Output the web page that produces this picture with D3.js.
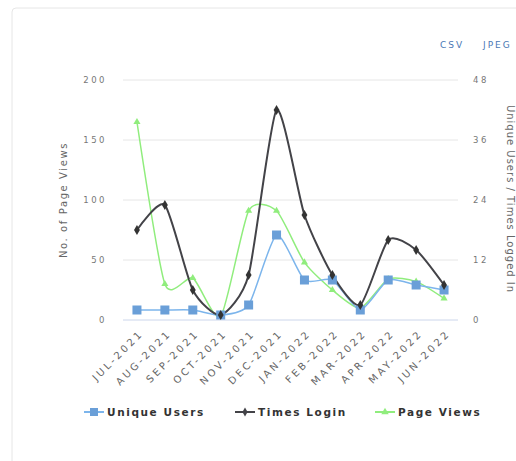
<!DOCTYPE html>
<html>
<head>
<meta charset="utf-8">
<script src="https://cdn.jsdelivr.net/npm/d3@7"></script>
<style>
  body { margin: 0; background: #fff; font-family: "DejaVu Sans", sans-serif; }
  svg { display: block; }
</style>
</head>
<body>
<figure id="chart" style="margin:0"></figure>
<script>
// chart values
const months = ["JUL-2021", "AUG-2021", "SEP-2021", "OCT-2021", "NOV-2021", "DEC-2021",
  "JAN-2022", "FEB-2022", "MAR-2022", "APR-2022", "MAY-2022", "JUN-2022"];
const uniqueUsers = [2, 2, 2, 1, 3, 17, 8, 8, 2, 8, 7, 6];
const timesLogin = [18, 23, 6, 1, 9, 42, 21, 9, 3, 16, 14, 7];
const pageViews = [165, 30, 35, 3, 91, 91, 48, 25, 10, 34, 32, 18];
const leftTicks = [0, 50, 100, 150, 200];
const rightTicks = [0, 12, 24, 36, 48];

const W = 516, H = 461;
const plot = { left: 123, right: 458, top: 80, bottom: 320 };

const svg = d3.select("#chart").append("svg")
  .attr("width", W)
  .attr("height", H);

// card frame
svg.append("rect")
  .attr("x", 12).attr("y", 8)
  .attr("width", 520).attr("height", 470)
  .attr("rx", 4)
  .attr("fill", "#fff")
  .attr("stroke", "#e6e6e6");

// export links
svg.append("text").attr("x", 440).attr("y", 48)
  .attr("font-size", 9).attr("fill", "#4a78b5").attr("letter-spacing", 2)
  .text("CSV");
svg.append("text").attr("x", 483).attr("y", 48)
  .attr("font-size", 9).attr("fill", "#4a78b5").attr("letter-spacing", 2)
  .text("JPEG");

const x = d3.scaleBand()
  .domain(months)
  .range([plot.left, plot.right]);
const cx = d => x(d) + x.bandwidth() / 2;

const yL = d3.scaleLinear().domain([0, 200]).range([plot.bottom, plot.top]);
const yR = d3.scaleLinear().domain([0, 48]).range([plot.bottom, plot.top]);

// gridlines
svg.append("g").selectAll("line")
  .data(leftTicks)
  .enter().append("line")
  .attr("x1", plot.left).attr("x2", plot.right)
  .attr("y1", d => yL(d)).attr("y2", d => yL(d))
  .attr("stroke", d => d === 0 ? "#ccd6eb" : "#e6e6e6")
  .attr("stroke-width", 1);

// left axis labels
svg.append("g").selectAll("text")
  .data(leftTicks)
  .enter().append("text")
  .attr("x", 107).attr("y", d => yL(d) + 3)
  .attr("text-anchor", "end")
  .attr("font-size", 8.5).attr("fill", "#777").attr("letter-spacing", 2.5)
  .text(d => d);

// right axis labels
svg.append("g").selectAll("text")
  .data(rightTicks)
  .enter().append("text")
  .attr("x", 473).attr("y", d => yR(d) + 3)
  .attr("font-size", 8.5).attr("fill", "#777").attr("letter-spacing", 2.5)
  .text(d => d);

// axis titles
svg.append("text")
  .attr("transform", "translate(67,200) rotate(-90)")
  .attr("text-anchor", "middle")
  .attr("font-size", 10).attr("fill", "#666").attr("letter-spacing", 1.6)
  .text("No. of Page Views");
svg.append("text")
  .attr("transform", "translate(507,199) rotate(90)")
  .attr("text-anchor", "middle")
  .attr("font-size", 10).attr("fill", "#666").attr("letter-spacing", 1.0)
  .text("Unique Users / Times Logged In");

// x labels
svg.append("g").selectAll("text")
  .data(months)
  .enter().append("text")
  .attr("transform", d => "translate(" + (cx(d) + 7) + "," + (plot.bottom + 14) + ") rotate(-45)")
  .attr("text-anchor", "end")
  .attr("font-size", 10).attr("fill", "#666").attr("letter-spacing", 2.8)
  .text(d => d);

const curve = d3.curveCardinal.tension(0.35);

function drawSeries(values, y, color, width) {
  const line = d3.line()
    .x((d, i) => cx(months[i]))
    .y(d => y(d))
    .curve(curve);
  svg.append("path")
    .datum(values)
    .attr("d", line)
    .attr("fill", "none")
    .attr("stroke", color)
    .attr("stroke-width", width);
}

drawSeries(pageViews, yL, "#90ed7d", 1.5);
drawSeries(uniqueUsers, yR, "#7cb5ec", 1.5);
drawSeries(timesLogin, yR, "#434348", 2);

// markers
svg.append("g").selectAll("path")
  .data(pageViews)
  .enter().append("path")
  .attr("d", d3.symbol(d3.symbolTriangle, 22))
  .attr("transform", (d, i) => "translate(" + cx(months[i]) + "," + yL(d) + ")")
  .attr("fill", "#90ed7d");

svg.append("g").selectAll("rect")
  .data(uniqueUsers)
  .enter().append("rect")
  .attr("x", (d, i) => cx(months[i]) - 4.5)
  .attr("y", d => yR(d) - 4.5)
  .attr("width", 9).attr("height", 9)
  .attr("fill", "#6a9fd8");

svg.append("g").selectAll("path")
  .data(timesLogin)
  .enter().append("path")
  .attr("d", d3.symbol(d3.symbolDiamond, 30))
  .attr("transform", (d, i) => "translate(" + cx(months[i]) + "," + yR(d) + ")")
  .attr("fill", "#333");

// legend
const legend = [
  { name: "Unique Users", color: "#7cb5ec", x: 84, kind: "square" },
  { name: "Times Login", color: "#434348", x: 235, kind: "diamond" },
  { name: "Page Views", color: "#90ed7d", x: 375, kind: "triangle" }
];
const lg = svg.append("g").selectAll("g")
  .data(legend)
  .enter().append("g")
  .attr("transform", d => "translate(" + d.x + ",412)");
lg.append("line")
  .attr("x1", 0).attr("x2", 20).attr("y1", 0).attr("y2", 0)
  .attr("stroke", d => d.color).attr("stroke-width", 2);
lg.append("path")
  .attr("d", d => d.kind === "square" ? "M-4,-4h8v8h-8z" : d3.symbol(d.kind === "diamond" ? d3.symbolDiamond : d3.symbolTriangle, 24)())
  .attr("transform", "translate(10,0)")
  .attr("fill", d => d.kind === "square" ? "#6a9fd8" : d.color);
lg.append("text")
  .attr("x", 23).attr("y", 4)
  .attr("font-size", 10.5).attr("font-weight", "bold").attr("fill", "#333")
  .attr("letter-spacing", 1.6)
  .text(d => d.name);
</script>
</body>
</html>
